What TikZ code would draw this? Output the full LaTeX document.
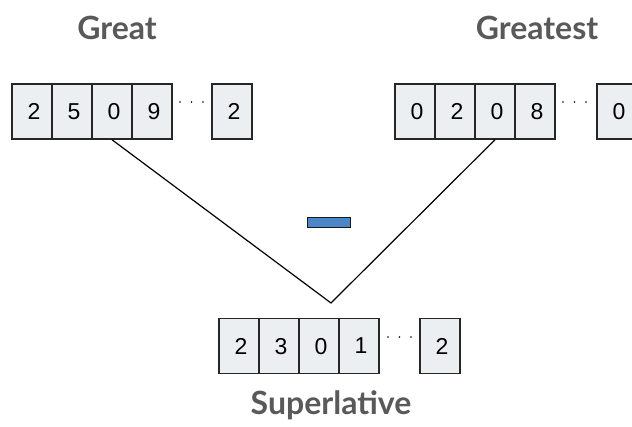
\documentclass[tikz,border=0pt]{standalone}
\usepackage{fontspec}
\setmainfont{Liberation Sans}
\newfontfamily\labelfont{Lato}
\definecolor{cellfill}{HTML}{ECEFF1}
\definecolor{titlegray}{HTML}{595959}
\definecolor{barblue}{HTML}{4A86C8}
\begin{document}
\begin{tikzpicture}[x=1pt,y=-1pt,
  cell/.style={draw=black!85,fill=cellfill,line width=1.5pt,minimum width=40pt,minimum height=55pt,inner sep=0pt,font=\fontsize{23}{23}\selectfont,text depth=0pt},
  title/.style={font=\labelfont\bfseries\fontsize{32}{32}\selectfont,text=titlegray},
  dotc/.style={circle,fill=black,inner sep=0pt,minimum size=1.8pt},
  conn/.style={line width=1.2pt,black}]
\useasboundingbox (0,0) rectangle (632,427);
\fill[white] (0,0) rectangle (632,427);
% Left array
\foreach \v [count=\i] in {2,5,0,9}{
  \node[cell] (L\i) at ({12+40*\i-20},111.5) {\hspace{4pt}\v};
}
\node[cell] (L5) at (232,111.5) {\hspace{4pt}2};
\foreach \k in {0,1,2}{\node[dotc] (Ld\k) at ({180+11.5*\k},102) {};}
% Right array
\foreach \v [count=\i] in {0,2,0,8}{
  \node[cell] (R\i) at ({395+40*\i-20},111.5) {\hspace{4pt}\v};
}
\node[cell] (R5) at (617,111.5) {\hspace{4pt}0};
\foreach \k in {0,1,2}{\node[dotc] (Rd\k) at ({563+11.5*\k},102) {};}
% Bottom array
\foreach \v [count=\i] in {2,3,0,1}{
  \node[cell] (B\i) at ({219+40*\i-20},346) {\hspace{4pt}\v};
}
\node[cell] (B5) at (440,346) {\hspace{4pt}2};
\foreach \k in {0,1,2}{\node[dotc] (Bd\k) at ({388+11.5*\k},337) {};}
% Titles
\node[title] (tGreat) at (117,28) {Great};
\node[title] (tGreatest) at (537,28) {Greatest};
\node[title] (tSuper) at (331,405) {Superlative};
% Connectors
\coordinate (V) at (331,303);
\draw[conn] (L3.south) -- (V) -- (R3.south);
% Blue bar
\node[draw=black!90,fill=barblue,line width=1.8pt,minimum width=43pt,minimum height=10pt,inner sep=0pt] (bar) at (329,222.5) {};
\end{tikzpicture}
\end{document}
